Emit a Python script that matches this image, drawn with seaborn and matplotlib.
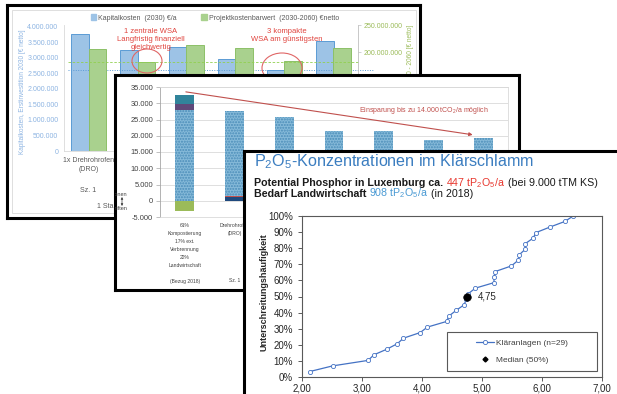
import numpy as np
import pandas as pd
import matplotlib
matplotlib.use('Agg')
import matplotlib.pyplot as plt
import matplotlib.transforms as mtrans
import seaborn as sns
from matplotlib.patches import Ellipse, Patch, Rectangle
from matplotlib.lines import Line2D

## Panel 1: Kapitalkosten / Projektkostenbarwert
gruppen1      = ['G1', 'G2', 'G3', 'G4', 'G5', 'G6']
labels1       = ['1x Drehrohrofen\n(DRO)', '', '', '', '', '']
serien1       = ['Kapitalkosten  (2030) €/a', 'Projektkostenbarwert  (2030-2060) €netto']
kapitalkosten = [3770000, 3260000, 3350000, 2970000, 2610000, 3550000]
projektkosten = [205600000, 181500000, 213000000, 207400000, 183300000, 207400000]
ticks1_links  = [0, 500000, 1000000, 1500000, 2000000, 2500000, 3000000, 3500000, 4000000]
ticks1_rechts = [200000000, 250000000]

## Panel 2: CO2-Bilanz
gruppen2   = ['S1', 'S2', 'S3', 'S4', 'S5', 'S6', 'S7']
labels2    = ['61%\nKompostierung\n17% ext.\nVerbrennung\n22%\nLandwirtschaft',
              'Drehrohrofen\n(DRO)', '', '', '', '', '']
bezug2     = ['(Bezug 2018)', 'Sz. 1', '', '', '', '', '']
dunkelblau = [0, 1100, 1100, 1100, 1100, 1100, 1100]
rot        = [0, 400, 400, 400, 400, 400, 400]
gerastert  = [28000, 26000, 24400, 20000, 20000, 17200, 17800]
lila       = [1900, 0, 0, 0, 0, 0, 0]
tuerkis    = [2600, 0, 0, 0, 0, 0, 0]
gutschrift = [-3000, 0, 0, 0, 0, 0, 0]
ticks2     = [-5000, 0, 5000, 10000, 15000, 20000, 25000, 30000, 35000]

## Panel 3: P2O5-Konzentrationen
p2o5        = [2.13, 2.51, 3.10, 3.20, 3.41, 3.59, 3.69, 3.97, 4.09, 4.41, 4.45, 4.57, 4.70, 4.74,
               4.77, 4.89, 5.20, 5.20, 5.22, 5.49, 5.60, 5.62, 5.72, 5.72, 5.85, 5.90, 6.13, 6.38, 6.52]
haeufigkeit = [0.034, 0.069, 0.103, 0.138, 0.172, 0.207, 0.241, 0.276, 0.310, 0.345, 0.379, 0.414,
               0.448, 0.483, 0.517, 0.552, 0.586, 0.621, 0.655, 0.690, 0.724, 0.759, 0.793, 0.828,
               0.862, 0.897, 0.931, 0.966, 1.000]
median_x    = [4.75]
median_y    = [0.50]
ticks3_x    = [2, 3, 4, 5, 6, 7]
ticks3_y    = [0, 0.1, 0.2, 0.3, 0.4, 0.5, 0.6, 0.7, 0.8, 0.9, 1.0]

sns.set_theme(style='white')
plt.rcParams['font.family'] = ['Liberation Sans', 'DejaVu Sans']
plt.rcParams['mathtext.fontset'] = 'custom'
plt.rcParams['mathtext.rm'] = 'Liberation Sans'
plt.rcParams['mathtext.it'] = 'Liberation Sans:italic'
plt.rcParams['mathtext.bf'] = 'Liberation Sans:bold'
plt.rcParams['mathtext.default'] = 'regular'

W, H = 617, 394
fig = plt.figure(figsize=(W / 100, H / 100), dpi=100)
fig.patch.set_facecolor('white')

def box(x0, y0, x1, y1):
    return [x0 / W, 1 - y1 / H, (x1 - x0) / W, (y1 - y0) / H]

def frame(x0, y0, x1, y1, z):
    ax = fig.add_axes(box(x0, y0, x1, y1))
    ax.set_xlim(x0, x1); ax.set_ylim(y1, y0)
    ax.set_xticks([]); ax.set_yticks([])
    ax.set_facecolor('white')
    for s in ax.spines.values():
        s.set_visible(True); s.set_color('black'); s.set_linewidth(2.2)
    ax.set_zorder(z)
    return ax

def overlay(x0, y0, x1, y1, z):
    ax = fig.add_axes(box(x0, y0, x1, y1))
    ax.set_xlim(x0, x1); ax.set_ylim(y1, y0)
    ax.axis('off')
    ax.set_zorder(z)
    return ax

def plotaxes(x0, y0, x1, y1, z):
    ax = fig.add_axes(box(x0, y0, x1, y1))
    ax.set_zorder(z)
    ax.patch.set_visible(False)
    return ax

def punkte(v):
    return f'{v:,.0f}'.replace(',', '.')

## ---------------- Panel 1 ----------------
fr1 = frame(7, 5, 420, 218, 10)
fr1.add_patch(Rectangle((12, 10), 404, 203, fill=False, ec='#D9D9D9', lw=0.6))
ax1 = plotaxes(64, 25, 358, 151, 11)
pix1 = overlay(7, 5, 420, 218, 13)

farben1 = {serien1[0]: '#9DC3E6', serien1[1]: '#A9D18E'}
df1 = pd.DataFrame({'gruppe': gruppen1 * 2,
                    'serie': [serien1[0]] * 6 + [serien1[1]] * 6,
                    'links': kapitalkosten + [np.nan] * 6,
                    'rechts': [np.nan] * 6 + projektkosten})
sns.barplot(data=df1, x='gruppe', y='links', hue='serie', order=gruppen1, hue_order=serien1,
            palette=farben1, width=0.72, saturation=1, errorbar=None, legend=False,
            edgecolor='#5B9BD5', linewidth=0.7, ax=ax1)
ax1r = ax1.twinx()
ax1r.set_zorder(12)
sns.barplot(data=df1, x='gruppe', y='rechts', hue='serie', order=gruppen1, hue_order=serien1,
            palette=farben1, width=0.72, saturation=1, errorbar=None, legend=False,
            edgecolor='#8CC068', linewidth=0.7, ax=ax1r)

ax1.set_ylim(0, 4.05e6)
ax1r.set_ylim(16.7e6, 250e6)
ax1.set_xlim(-0.5, 5.5)
ax1.set_xlabel(''); ax1.set_ylabel(''); ax1r.set_ylabel('')
ax1.set_yticks(ticks1_links, [punkte(v) for v in ticks1_links])
ax1r.set_yticks(ticks1_rechts, [punkte(v) for v in ticks1_rechts])
ax1.set_xticks(range(len(gruppen1)), labels1, linespacing=1.4)
ax1.tick_params(axis='y', length=0, labelsize=5, labelcolor='#8DB4E2', pad=4)
ax1.tick_params(axis='x', length=0, labelsize=5, labelcolor='#595959', pad=4)
ax1r.tick_params(axis='y', length=2, width=0.5, color='#BFBFBF', labelsize=5,
                 labelcolor='#9BBB59', pad=2)
for k, s in ax1.spines.items():
    s.set_visible(k in ('left', 'bottom')); s.set_color('#D9D9D9'); s.set_linewidth(0.6)
for k, s in ax1r.spines.items():
    s.set_visible(k == 'right'); s.set_color('#BFBFBF'); s.set_linewidth(0.6)

ax1.axhline(min(kapitalkosten), xmin=0.015, xmax=1.05, color='#5B9BD5', ls=(0, (1, 1.5)),
            lw=0.7, clip_on=False)
ax1r.axhline(min(projektkosten), xmin=0.015, xmax=1.005, color='#92D050', ls=(0, (3, 2)),
             lw=0.6, clip_on=False)

ax1.legend(handles=[Patch(fc=farben1[s], ec=farben1[s]) for s in serien1], labels=serien1,
           ncol=2, loc='center', bbox_to_anchor=(215, 18), bbox_transform=pix1.transData,
           frameon=False, fontsize=5, handlelength=0.8, handleheight=0.8, handletextpad=0.3,
           columnspacing=3.5, labelcolor='#595959')

pix1.text(22, 154, 'Kapitalkosten, Erstinvestition 2030 [€ netto]', rotation=90,
          ha='center', va='bottom', fontsize=4.7, color='#8DB4E2')
pix1.text(410, 25, 'Projektkostenbarwert 2030 - 2060 [€ netto]', rotation=90,
          ha='center', va='top', fontsize=4.7, color='#9BBB59')
pix1.text(151, 28, '1 zentrale WSA\nLangfristig finanziell\ngleichwertig', ha='center',
          va='top', fontsize=5.5, color='#E0443E', linespacing=1.2)
pix1.text(287, 28, '3 kompakte\nWSA am günstigsten', ha='center', va='top', fontsize=5.5,
          color='#E0443E', linespacing=1.2)
pix1.add_patch(Ellipse((147, 61), 30, 24, fill=False, ec='#E06666', lw=0.8))
pix1.add_patch(Ellipse((282, 68), 40, 30, fill=False, ec='#E06666', lw=0.8))
tr1 = mtrans.blended_transform_factory(ax1.transData, pix1.transData)
pix1.text(0, 190, 'Sz. 1', transform=tr1, ha='center', va='center', fontsize=5, color='#595959')
pix1.text(0.5, 207, '1 Standort', transform=tr1, ha='center', va='center', fontsize=5,
          color='#595959')

## ---------------- Panel 2 ----------------
fr2 = frame(115, 75, 519, 290, 20)
ax2 = plotaxes(160, 87, 508, 217, 21)
pix2 = overlay(115, 75, 519, 290, 22)

kum = np.cumsum([dunkelblau, rot, gerastert, lila, tuerkis], axis=0)
stapel = [(kum[4], dict(color='#31849B')),
          (kum[3], dict(color='#60497A')),
          (kum[2], dict(color='#86BAD9', hatch='......', edgecolor='#4A8CB8')),
          (kum[1], dict(color='#C0504D')),
          (kum[0], dict(color='#1F497D'))]
for hoehe, stil in stapel:
    sns.barplot(x=gruppen2, y=hoehe, order=gruppen2, width=0.38, saturation=1, errorbar=None,
                linewidth=0, ax=ax2, **stil)
sns.barplot(x=gruppen2, y=gutschrift, order=gruppen2, width=0.38, saturation=1, errorbar=None,
            linewidth=0, color='#9BBB59', ax=ax2)

ax2.set_ylim(-5000, 35000)
ax2.set_xlim(-0.5, 6.5)
ax2.set_yticks(ticks2, [punkte(v) for v in ticks2])
ax2.grid(axis='y', color='#D9D9D9', lw=0.6)
ax2.set_axisbelow(True)
ax2.set_xticks(range(len(gruppen2)), labels2, linespacing=1.75)
ax2.set_xticks(np.arange(-0.5, len(gruppen2), 1), minor=True)
ax2.tick_params(axis='x', which='major', length=0, labelsize=3.6, labelcolor='#404040', pad=4)
ax2.tick_params(axis='x', which='minor', length=52, width=0.6, color='#D9D9D9', direction='out')
ax2.tick_params(axis='y', length=3, width=0.5, color='#A6A6A6', labelsize=5.4,
                labelcolor='#404040', pad=2, left=True)
for k, s in ax2.spines.items():
    s.set_visible(True); s.set_linewidth(0.6)
    s.set_color('#A6A6A6' if k == 'left' else '#D9D9D9')

ax2.annotate('', xy=(6 - 0.21, kum[4][6] + 1000), xytext=(0.02, kum[4][0] + 1000),
             arrowprops=dict(arrowstyle='-|>', color='#C0504D', lw=0.8, mutation_scale=5,
                             shrinkA=0, shrinkB=0))
pix2.text(489, 110, 'Einsparung bis zu 14.000 tCO$_2$/a möglich', ha='right', va='center',
          fontsize=5, color='#C0504D')
tr2 = mtrans.blended_transform_factory(ax2.transData, pix2.transData)
for i, t in enumerate(bezug2):
    pix2.text(i, 281, t, transform=tr2, ha='center', va='center', fontsize=3.6, color='#404040',
              clip_on=True)
pix2.text(127, 194, 'Emissionen', ha='right', va='center', fontsize=4, color='#404040',
          clip_on=True)
pix2.text(128, 208, 'Gutschriften', ha='right', va='center', fontsize=4, color='#404040',
          clip_on=True)
pix2.annotate('', xy=(122, 206), xytext=(122, 197),
              arrowprops=dict(arrowstyle='<|-|>', color='#404040', lw=0.5, mutation_scale=3,
                              shrinkA=0, shrinkB=0))

## ---------------- Panel 3 ----------------
fr3 = frame(244, 151, 650, 430, 30)
ax3 = plotaxes(302, 216, 602, 377, 31)
pix3 = overlay(244, 151, 650, 430, 32)

sns.lineplot(x=p2o5, y=haeufigkeit, estimator=None, sort=False, color='#4472C4', lw=0.9,
             marker='o', markersize=3, markerfacecolor='white', markeredgecolor='#4472C4',
             markeredgewidth=0.6, ax=ax3)
sns.scatterplot(x=median_x, y=median_y, color='black', s=30, marker='o', edgecolor='black',
                zorder=5, ax=ax3)
ax3.annotate(f'{median_x[0]:.2f}'.replace('.', ','), xy=(median_x[0], median_y[0]),
             xytext=(7.5, 0), textcoords='offset points', va='center', fontsize=7,
             color='#262626')

ax3.set_xlim(2, 7)
ax3.set_ylim(0, 1)
ax3.set_xticks(ticks3_x, [f'{v:.2f}'.replace('.', ',') for v in ticks3_x])
ax3.set_yticks(ticks3_y, [f'{round(v * 100)}%' for v in ticks3_y])
ax3.tick_params(length=3, width=0.6, color='#404040', labelsize=7, labelcolor='#262626',
                bottom=True, left=True)
ax3.tick_params(axis='x', pad=2)
ax3.tick_params(axis='y', pad=3.5)
for s in ax3.spines.values():
    s.set_visible(True); s.set_color('#595959'); s.set_linewidth(0.8)

ax3.add_patch(Rectangle((0.483, 0.037), 0.5, 0.242, transform=ax3.transAxes, fill=False,
                        ec='#595959', lw=0.8))
ax3.legend(handles=[ax3.lines[0],
                    Line2D([], [], ls='', marker='D', color='black', markersize=2.5)],
           labels=['Kläranlagen (n=29)', 'Median (50%)'], loc='center',
           bbox_to_anchor=(0.733, 0.158), frameon=False, fontsize=6, handlelength=2.2,
           labelspacing=1.2, handletextpad=0.2, labelcolor='#404040')

pix3.text(264, 292, 'Unterschreitungshäufigkeit', rotation=90, ha='center', va='center',
          fontsize=6.5, fontweight='bold', color='#262626')
pix3.text(254, 162, 'P$_2$O$_5$-Konzentrationen im Klärschlamm', ha='left', va='center',
          fontsize=11.6, color='#3B7DC0')

def farbtext(ax, x, y, teile, groesse):
    r = fig.canvas.get_renderer()
    for text, farbe, gewicht in teile:
        t = ax.text(x, y, text, color=farbe, fontweight=gewicht, fontsize=groesse,
                    ha='left', va='baseline')
        x += t.get_window_extent(r).width + 2.9

farbtext(pix3, 254, 186, [('Potential Phosphor in Luxemburg ca.', '#1A1A1A', 'bold'),
                          ('447 tP$_2$O$_5$/a', '#E8382F', 'normal'),
                          ('(bei 9.000 tTM KS)', '#1A1A1A', 'normal')], 7.7)
farbtext(pix3, 254, 196.5, [('Bedarf Landwirtschaft', '#1A1A1A', 'bold'),
                            ('908 tP$_2$O$_5$/a', '#4A9AD4', 'normal'),
                            ('(in 2018)', '#1A1A1A', 'normal')], 7.7)

fig.savefig('out.png', dpi=100)
